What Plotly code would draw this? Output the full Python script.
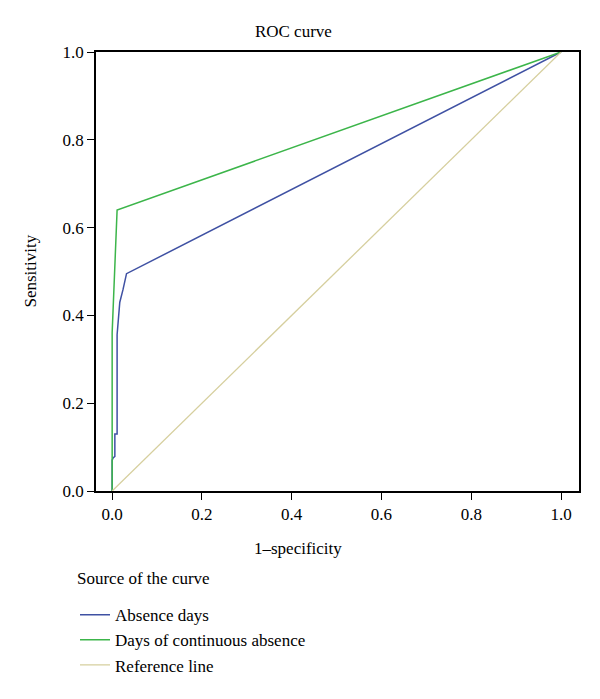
import plotly.graph_objects as go

# Data
absence_fpr = [0.0, 0.0, 0.002, 0.006, 0.006, 0.011, 0.011, 0.017, 0.024, 0.032, 1.0]
absence_tpr = [0.0, 0.07, 0.075, 0.079, 0.13, 0.13, 0.356, 0.43, 0.458, 0.495, 1.0]

continuous_fpr = [0.0, 0.0, 0.011, 1.0]
continuous_tpr = [0.0, 0.36, 0.64, 1.0]

reference_fpr = [0.0, 1.0]
reference_tpr = [0.0, 1.0]

series_names = ["Absence days", "Days of continuous absence", "Reference line"]
tick_vals = [0.0, 0.2, 0.4, 0.6, 0.8, 1.0]
tick_text = ["0.0", "0.2", "0.4", "0.6", "0.8", "1.0"]

FONT = "Liberation Serif, DejaVu Serif, serif"
FS = 17

fig = go.Figure()
fig.add_trace(go.Scatter(x=absence_fpr, y=absence_tpr, mode="lines",
                         name=series_names[0], line=dict(color="#3f51a3", width=1.5)))
fig.add_trace(go.Scatter(x=continuous_fpr, y=continuous_tpr, mode="lines",
                         name=series_names[1], line=dict(color="#3cb54a", width=1.5)))
fig.add_trace(go.Scatter(x=reference_fpr, y=reference_tpr, mode="lines",
                         name=series_names[2], line=dict(color="#d6cf9e", width=1.3)))

axis_common = dict(showgrid=False, zeroline=False, showline=True, linecolor="black",
                   linewidth=1.5, mirror=True, ticks="outside", ticklen=7,
                   tickcolor="black", tickwidth=1.2, tickvals=tick_vals, ticktext=tick_text,
                   tickfont=dict(family=FONT, size=FS, color="black"), automargin=False)

fig.update_layout(
    width=600, height=699,
    margin=dict(l=96, r=21, t=52, b=207.5, autoexpand=False),
    paper_bgcolor="white", plot_bgcolor="white",
    font=dict(family=FONT, size=FS, color="black"),
    title=dict(text="ROC curve", x=0.489, xanchor="center", y=0.955, yanchor="middle",
               font=dict(family=FONT, size=FS, color="black")),
    xaxis=dict(range=[-0.036, 1.04], **axis_common),
    yaxis=dict(range=[0, 1], **axis_common),
    showlegend=True,
    legend=dict(xref="container", yref="container", x=0.125, xanchor="left",
                y=0.1457, yanchor="top",
                font=dict(family=FONT, size=FS, color="black"),
                bgcolor="rgba(0,0,0,0)", itemwidth=30, tracegroupgap=0),
    annotations=[
        dict(text="1–specificity", xref="paper", yref="paper",
             x=(298 - 96) / 483, y=(491.5 - 549) / 439.5,
             xanchor="center", yanchor="middle", showarrow=False,
             font=dict(family=FONT, size=FS, color="black")),
        dict(text="Sensitivity", xref="paper", yref="paper",
             x=(30 - 96) / 483, y=0.5, textangle=-90,
             xanchor="center", yanchor="middle", showarrow=False,
             font=dict(family=FONT, size=FS, color="black")),
        dict(text="Source of the curve", xref="paper", yref="paper",
             x=(75 - 96) / 483, y=(491.5 - 579) / 439.5,
             xanchor="left", yanchor="middle", showarrow=False,
             font=dict(family=FONT, size=FS, color="black")),
    ],
)

fig.write_html("out.html", config={"displayModeBar": False},
               post_script="document.body.style.margin='0px';document.body.style.overflow='hidden';")
